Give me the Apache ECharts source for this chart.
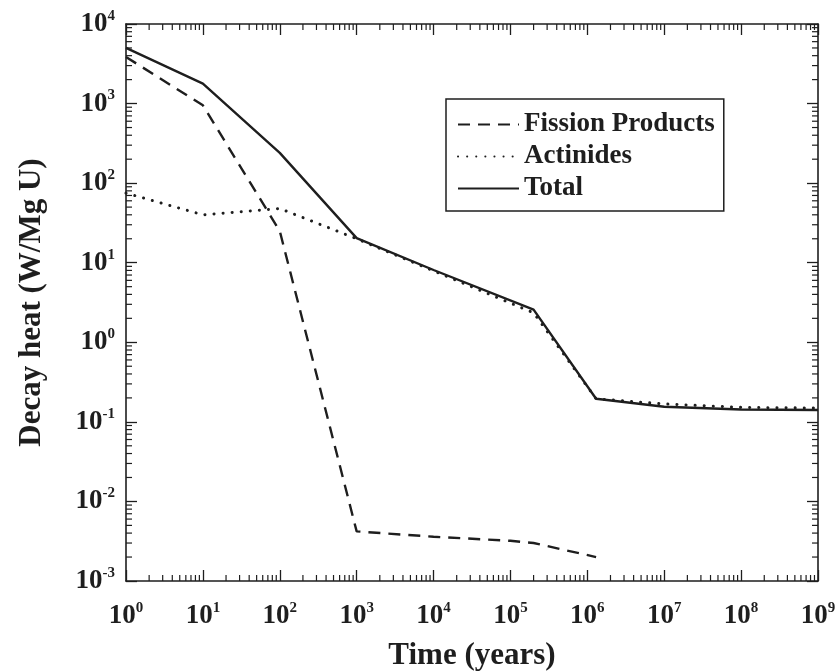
<!DOCTYPE html>
<html><head><meta charset="utf-8">
<script src="https://cdn.jsdelivr.net/npm/echarts@6/dist/echarts.min.js"></script>
<style>html,body{margin:0;padding:0;background:#fff}#c{width:838px;height:671px}</style>
</head><body><div id="c"></div>
<script>
// ---- data ----
const fissionYears = [1, 10, 100, 1000, 10000, 100000, 200000, 1300000];
const fissionProducts = [3850, 950, 25, 0.0042, 0.0036, 0.0032, 0.0030, 0.0020];
const actinideYears = [1, 10, 100, 1000, 10000, 200000, 1300000, 1e7, 1e8, 1e9];
const actinides = [75, 40, 48, 20, 7.9, 2.35, 0.195, 0.168, 0.152, 0.149];
const totalYears = [1, 10, 100, 1000, 10000, 200000, 1300000, 1e7, 1e8, 1e9];
const total = [5000, 1780, 240, 20.4, 8.1, 2.57, 0.195, 0.155, 0.143, 0.141];
const xMin = 1, xMax = 1e9;
const yMin = 1e-3, yMax = 1e4;
const minorFactors = [2, 3, 4, 5, 6, 7, 8, 9];
const xDecades = [0, 1, 2, 3, 4, 5, 6, 7, 8];
const yDecades = [-3, -2, -1, 0, 1, 2, 3];

const INK = '#1e1e1e';
const FONT = 'Liberation Serif';

function pairs(xs, ys) { return xs.map((x, i) => [x, ys[i]]); }
const xMinor = [];
xDecades.forEach(d => minorFactors.forEach(f => xMinor.push([f * Math.pow(10, d), yMin])));
const yMinor = [];
yDecades.forEach(d => minorFactors.forEach(f => yMinor.push([xMin, f * Math.pow(10, d)])));

function powLabel(v) {
  const e = Math.round(Math.log10(v));
  return '{b|10}{s|' + e + '}';
}
const rich = {
  b: { fontFamily: FONT, fontWeight: 'bold', fontSize: 27, color: INK },
  s: { fontFamily: FONT, fontWeight: 'bold', fontSize: 15, color: INK, padding: [0, 0, 16, 0] }
};

const tickStyle = { color: INK, width: 1.3 };
const lineAxis = { show: true, lineStyle: { color: INK, width: 1.6 } };

function logX(pos, showLabel) {
  return {
    type: 'log', logBase: 10, min: xMin, max: xMax, splitNumber: 9, position: pos,
    axisLine: lineAxis,
    axisTick: { show: true, inside: true, length: 11, lineStyle: tickStyle },
    axisLabel: { show: showLabel, formatter: powLabel, rich: rich, margin: 20 },
    splitLine: { show: false },
    minorTick: { show: false },
    name: showLabel ? 'Time (years)' : '',
    nameLocation: 'middle', nameGap: 59,
    nameTextStyle: { fontFamily: FONT, fontWeight: 'bold', fontSize: 31, color: INK }
  };
}
function logY(pos, showLabel) {
  return {
    type: 'log', logBase: 10, min: yMin, max: yMax, splitNumber: 7, position: pos,
    axisLine: lineAxis,
    axisTick: { show: true, inside: true, length: 11, lineStyle: tickStyle },
    axisLabel: { show: showLabel, formatter: powLabel, rich: rich, margin: 11 },
    splitLine: { show: false },
    minorTick: { show: false },
    name: showLabel ? 'Decay heat (W/Mg U)' : '',
    nameLocation: 'middle', nameGap: 79, nameRotate: 90,
    nameTextStyle: { fontFamily: FONT, fontWeight: 'bold', fontSize: 31, color: INK }
  };
}

function minorRender(isX) {
  return function (params, api) {
    const L = 6;
    const st = { stroke: INK, lineWidth: 1.2 };
    if (isX) {
      const v = api.value(0);
      const b = api.coord([v, yMin]);
      const t = api.coord([v, yMax]);
      return { type: 'group', children: [
        { type: 'line', shape: { x1: b[0], y1: b[1], x2: b[0], y2: b[1] - L }, style: st },
        { type: 'line', shape: { x1: t[0], y1: t[1], x2: t[0], y2: t[1] + L }, style: st }
      ] };
    } else {
      const v = api.value(1);
      const l = api.coord([xMin, v]);
      const r = api.coord([xMax, v]);
      return { type: 'group', children: [
        { type: 'line', shape: { x1: l[0], y1: l[1], x2: l[0] + L, y2: l[1] }, style: st },
        { type: 'line', shape: { x1: r[0], y1: r[1], x2: r[0] - L, y2: r[1] }, style: st }
      ] };
    }
  };
}

const chart = echarts.init(document.getElementById('c'), null, { renderer: 'canvas' });
chart.setOption({
  animation: false,
  backgroundColor: '#fff',
  grid: { left: 126, right: 20, top: 24, bottom: 90, containLabel: false, outerBoundsMode: 'none' },
  xAxis: [logX('bottom', true), logX('top', false)],
  yAxis: [logY('left', true), logY('right', false)],
  legend: {
    orient: 'vertical', left: 446, top: 99,
    padding: [12, 9, 9, 11], itemGap: 5, itemWidth: 61, itemHeight: 24,
    borderColor: INK, borderWidth: 1.5, backgroundColor: '#fff',
    itemStyle: { opacity: 0, color: 'rgba(0,0,0,0)', borderWidth: 0 },
    textStyle: { fontFamily: FONT, fontWeight: 'bold', fontSize: 27, color: INK, lineHeight: 24 },
    data: ['Fission Products', 'Actinides', 'Total']
  },
  series: [
    { type: 'custom', silent: true, clip: false, xAxisIndex: 0, yAxisIndex: 0,
      renderItem: minorRender(true), data: xMinor, encode: { x: 0, y: 1 } },
    { type: 'custom', silent: true, clip: false, xAxisIndex: 0, yAxisIndex: 0,
      renderItem: minorRender(false), data: yMinor, encode: { x: 0, y: 1 } },
    { name: 'Fission Products', type: 'line', symbol: 'none', xAxisIndex: 0, yAxisIndex: 0,
      data: pairs(fissionYears, fissionProducts), color: INK,
      lineStyle: { color: INK, width: 2.4, type: [12, 8] } },
    { name: 'Actinides', type: 'line', symbol: 'none', xAxisIndex: 0, yAxisIndex: 0,
      data: pairs(actinideYears, actinides), color: INK,
      lineStyle: { color: INK, width: 3, type: [0.1, 9], cap: 'round' } },
    { name: 'Total', type: 'line', symbol: 'none', xAxisIndex: 0, yAxisIndex: 0,
      data: pairs(totalYears, total), color: INK,
      lineStyle: { color: INK, width: 2.4 } }
  ]
});
</script></body></html>
